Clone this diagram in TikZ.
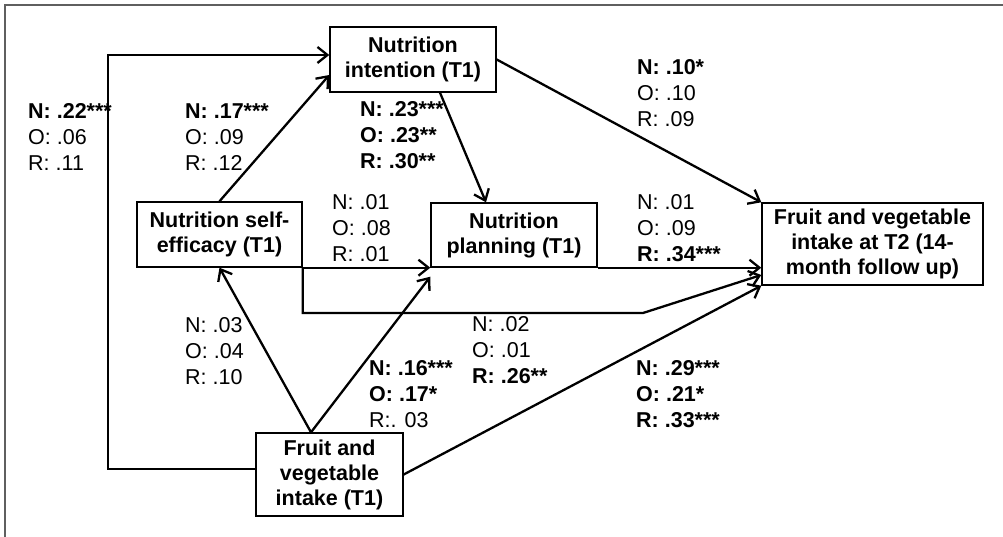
\documentclass[tikz,border=0pt]{standalone}
\usepackage{fontspec}
\setmainfont{Liberation Sans}
\usetikzlibrary{arrows.meta,positioning}
\definecolor{framegray}{RGB}{95,95,95}

\begin{document}
\begin{tikzpicture}[x=1pt,y=-1pt,
  box/.style={draw, line width=1.4pt, inner sep=0pt, align=center,
    font=\fontsize{21.5}{25}\selectfont\bfseries},
  link/.style={line width=2.3pt, -{Straight Barb[length=10pt,width=16pt]}},
  coef/.style={anchor=west, align=left, inner sep=0pt,
    font=\fontsize{21.5}{26}\selectfont}]
\useasboundingbox (0,0) rectangle (1003,537);

% Outer frame
\draw[framegray, line width=1.5pt] (5,537) -- (5,5) -- (1003,5);

% Boxes
\node[box, minimum width=166pt, minimum height=65pt] (intent) at (413,59.5) {Nutrition\\intention (T1)};
\node[box, minimum width=165pt, minimum height=65pt] (selfeff) at (219.5,234.5) {Nutrition self-\\efficacy (T1)};
\node[box, minimum width=166pt, minimum height=64pt] (plan) at (514,235) {Nutrition\\planning (T1)};
\node[box, minimum width=221pt, minimum height=82pt] (intake2) at (872.5,244) {Fruit and vegetable\\intake at T2 (14-\\month follow up)};
\node[box, minimum width=147pt, minimum height=83pt] (intake1) at (329.5,474.5) {Fruit and\\vegetable\\intake (T1)};

% Helper points
\coordinate (loopbot) at (108,469);
\coordinate (looptop) at (108,55);
\coordinate (bend) at (643,313);

% Paths
\draw[link] (intake1.west |- loopbot) -- (loopbot) -- (looptop) -- (intent.west |- looptop);
\draw[link] (selfeff.north) -- ([yshift=-15.5pt]intent.west);
\draw[link] ([xshift=27pt]intent.south) -- ([xshift=-28pt]plan.north);
\draw[link] (intent.east) -- (intake2.north west);
\draw[link] (selfeff.south east) -- (plan.south west);
\draw[link] (selfeff.south east) -- (selfeff.south east |- bend) -- (bend) -- ([yshift=-31pt]intake2.west);
\draw[link] (plan.south east) -- (intake2.west |- plan.south east);
\draw[link] ([xshift=-18.5pt]intake1.north) -- (selfeff.south);
\draw[link] ([xshift=-18.5pt]intake1.north) -- ([yshift=-9pt]plan.south west);
\draw[link] (intake1.east) -- (intake2.south west);

% Coefficients
\node[coef] (cLoop) at (28,137) {\textbf{N: .22***}\\O: .06\\R: .11};
\node[coef] (cEffInt) at (185,137) {\textbf{N: .17***}\\O: .09\\R: .12};
\node[coef] (cIntPlan) at (360,135) {\textbf{N: .23***}\\\textbf{O: .23**}\\\textbf{R: .30**}};
\node[coef] (cIntOut) at (637,93) {\textbf{N: .10*}\\O: .10\\R: .09};
\node[coef] (cEffPlan) at (332,228) {N: .01\\O: .08\\R: .01};
\node[coef] (cPlanOut) at (637,228) {N: .01\\O: .09\\\textbf{R: .34***}};
\node[coef] (cInEff) at (185,351) {N: .03\\O: .04\\R: .10};
\node[coef] (cInPlan) at (369,394) {\textbf{N: .16***}\\\textbf{O: .17*}\\R:. 03};
\node[coef] (cEffOut) at (472,350) {N: .02\\O: .01\\\textbf{R: .26**}};
\node[coef] (cInOut) at (636,394) {\textbf{N: .29***}\\\textbf{O: .21*}\\\textbf{R: .33***}};
\end{tikzpicture}
\end{document}
